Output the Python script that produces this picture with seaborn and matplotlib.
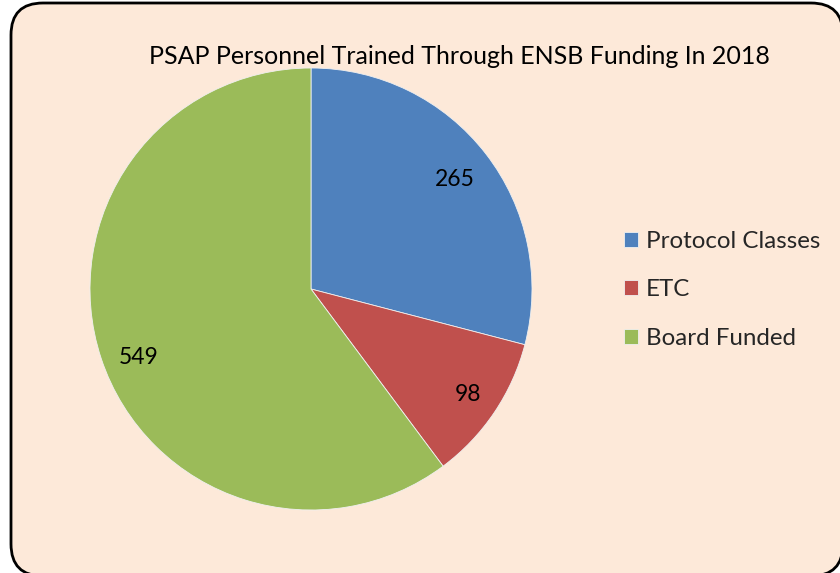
import matplotlib
matplotlib.use("Agg")
import matplotlib.pyplot as plt
from matplotlib.patches import FancyBboxPatch
from matplotlib.transforms import offset_copy
import seaborn as sns

# data
categories = ['Protocol Classes', 'ETC', 'Board Funded']
trained = [265, 98, 549]
title = 'PSAP Personnel Trained Through ENSB Funding In 2018'

sns.set_style('white')
plt.rcParams['font.family'] = ['Lato', 'DejaVu Sans']
colors = sns.color_palette(['#4F81BD', '#C0504D', '#9BBB59'])

W, H = 840, 573
fig = plt.figure(figsize=(W / 100, H / 100), dpi=100)
fig.patch.set_facecolor('white')

# rounded background panel, drawn in pixel units
bg = fig.add_axes([0, 0, 1, 1])
bg.set_xlim(0, W)
bg.set_ylim(H, 0)
bg.axis('off')
bg.add_patch(FancyBboxPatch((11, 3), 832, 573, boxstyle='round,pad=0,rounding_size=32',
                            facecolor='#FDE9D9', edgecolor='black', linewidth=2))

# pie axes: centre (311, 289), radius 221 px
cx, cy, r = 311, 289, 221
ax = fig.add_axes([(cx - r) / W, (H - cy - r) / H, 2 * r / W, 2 * r / H])
ax.set_facecolor('none')
wedges, texts, autotexts = ax.pie(trained, colors=colors, startangle=90, counterclock=False,
                                  autopct=lambda p: '%d' % round(p * sum(trained) / 100),
                                  pctdistance=0.82, radius=1,
                                  wedgeprops={'edgecolor': '#f0f0f0', 'linewidth': 0.6},
                                  textprops={'fontsize': 16.5, 'color': 'black'})
ax.set_xlim(-1, 1)
ax.set_ylim(-1, 1)
# nudge labels a little (points) like the original's label placement
for t, dx, dy in zip(autotexts, [0, 5, 0], [-1, -3, -8]):
    t.set_transform(offset_copy(ax.transData, fig=fig, x=dx, y=dy, units='points'))

fig.text(459 / W, 1 - 56 / H, title, ha='center', va='center', fontsize=18, color='black')

leg = fig.legend(wedges, categories, loc='center left', bbox_to_anchor=(624 / W, 1 - 290 / H),
                 frameon=False, fontsize=17.4, labelspacing=1.15, handlelength=0.58,
                 handleheight=0.58, handletextpad=0.33, borderpad=0, borderaxespad=0)

fig.savefig('out.png', dpi=100)
